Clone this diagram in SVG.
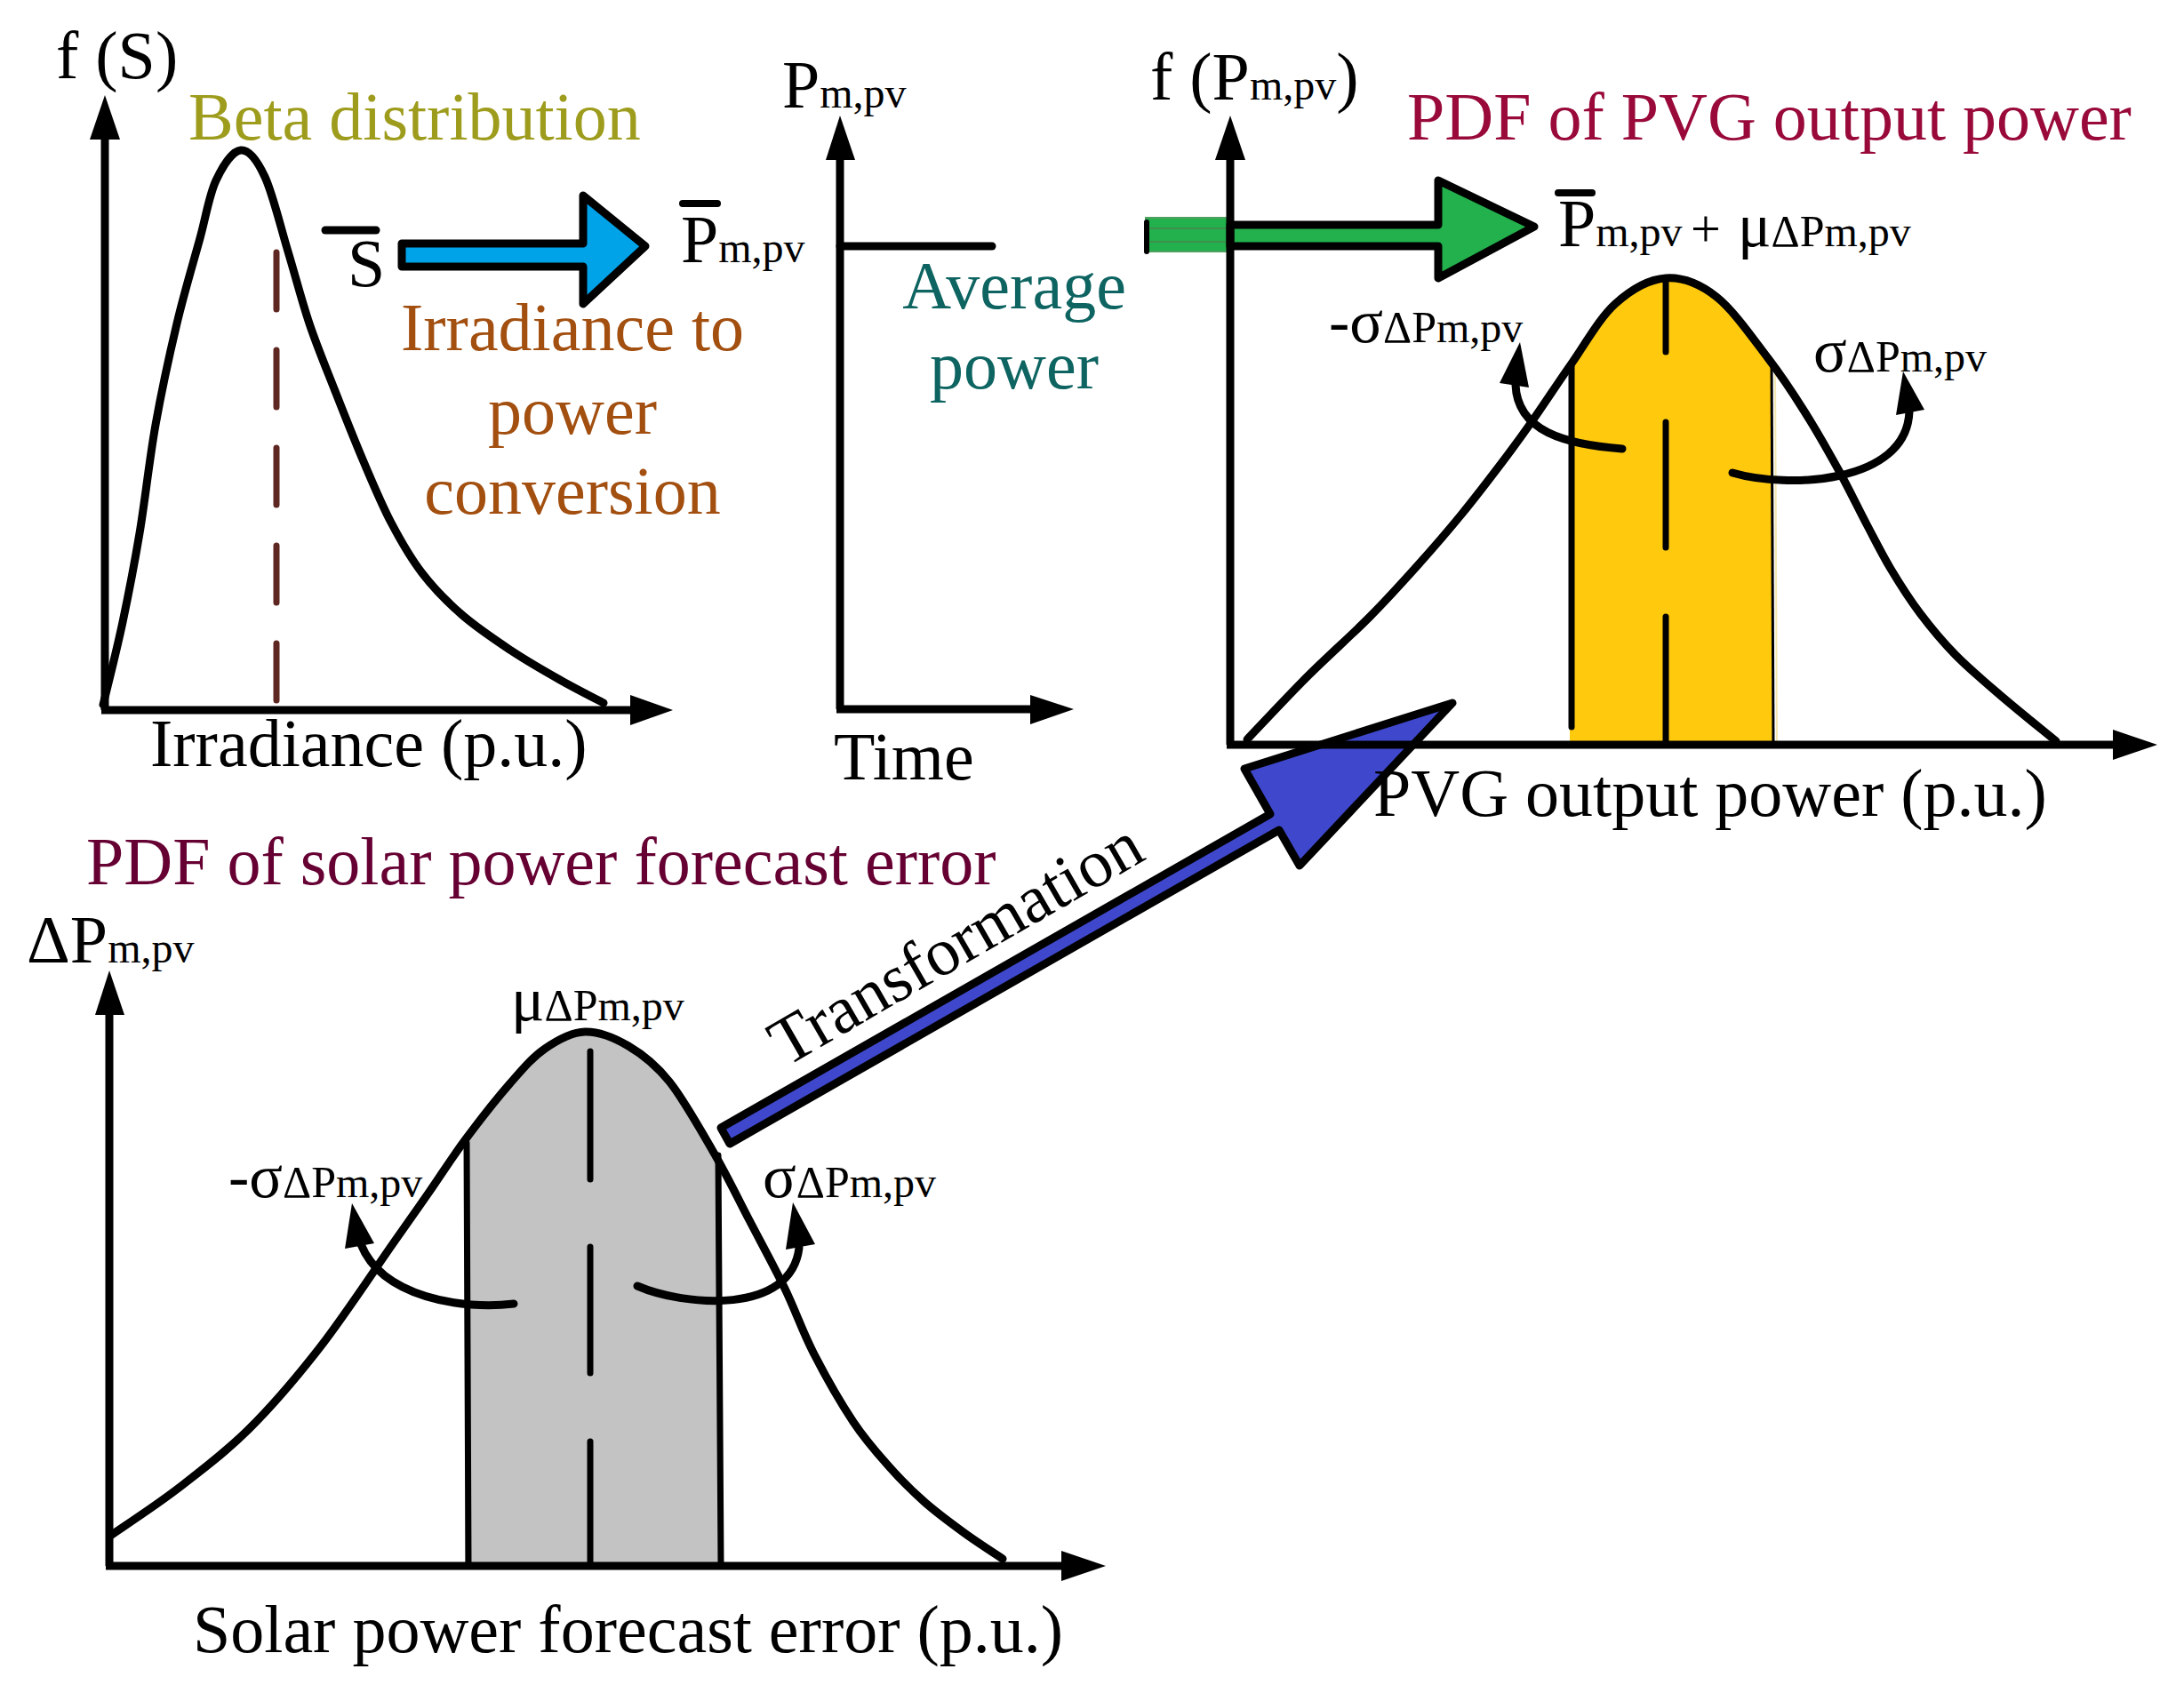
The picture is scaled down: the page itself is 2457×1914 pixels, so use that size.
<svg xmlns="http://www.w3.org/2000/svg" width="2457" height="1914" viewBox="0 0 2457 1914">
<style>
.t{font-family:"Liberation Serif","Times New Roman",serif;font-size:76px;fill:#000}
.s{font-size:48px}
.g{font-size:70px}
.d{font-size:50px}
.p{font-size:60px}
.olive{fill:#9e9c1c}
.brown{fill:#a24f10}
.teal{fill:#0d6461}
.crimson{fill:#990a3a}
.maroon{fill:#660033}
.ax{stroke:#000;stroke-width:9;fill:none}
.cv{stroke:#000;stroke-width:9;fill:none;stroke-linejoin:round;stroke-linecap:round}
.ln{stroke:#000;stroke-width:7;fill:none;stroke-linecap:round}
.ah{fill:#000}
.big{stroke:#000;stroke-width:9;stroke-linejoin:round}
</style>
<rect width="2457" height="1914" fill="#fff"/>

<g id="panel-beta">
  <line class="ax" x1="118" y1="155" x2="118" y2="799"/>
  <polygon class="ah" points="118,107 101,157 135,157"/>
  <line class="ax" x1="114" y1="799" x2="712" y2="799"/>
  <polygon class="ah" points="757,799 709,782 709,816"/>
  <line x1="311" y1="284" x2="311" y2="788" stroke="#5e2722" stroke-width="7" stroke-dasharray="64 46" stroke-linecap="round"/>
  <path class="cv" d="M116 793 C119.7 777.5,131.2 732.2,138 700 C144.8 667.8,150.8 637,157 600 C163.2 563,168 517.3,175 478 C182 438.7,190.7 399,199 364 C207.3 329,217.7 294.8,225 268 C232.3 241.2,235.3 219.5,243 203 C250.7 186.5,261.8 169.7,271 169 C280.2 168.3,289.2 180,298 199 C306.8 218,315.7 255.5,324 283 C332.3 310.5,339.2 337.8,348 364 C356.8 390.2,367 414.5,377 440 C387 465.5,397.5 492.3,408 517 C418.5 541.7,428.8 566.7,440 588 C451.2 609.3,461.7 627.7,475 645 C488.3 662.3,503.3 677.5,520 692 C536.7 706.5,556.7 719.8,575 732 C593.3 744.2,612.7 755.2,630 765 C647.3 774.8,670.8 786.7,679 791"/>
  <text class="t" x="63" y="88">f (S)</text>
  <text class="t olive" x="212" y="157">Beta distribution</text>
  <text class="t" x="391" y="322">S</text>
  <line x1="366" y1="259" x2="423" y2="259" stroke="#000" stroke-width="9" stroke-linecap="round"/>
  <text class="t" x="169" y="862">Irradiance (p.u.)</text>
</g>

<g id="label-conversion">
  <text class="t brown" x="644" y="394" text-anchor="middle">Irradiance to</text>
  <text class="t brown" x="644" y="488" text-anchor="middle">power</text>
  <text class="t brown" x="644" y="578" text-anchor="middle">conversion</text>
</g>

<g id="label-pbar">
  <text class="t" x="766" y="295">P<tspan class="s">m,pv</tspan></text>
  <line x1="768" y1="229" x2="807" y2="229" stroke="#000" stroke-width="8" stroke-linecap="round"/>
</g>

<g id="panel-time">
  <line class="ax" x1="945" y1="178" x2="945" y2="798"/>
  <polygon class="ah" points="945,130 929,180 962,180"/>
  <line class="ax" x1="941" y1="798" x2="1162" y2="798"/>
  <polygon class="ah" points="1208,798 1159,782 1159,815"/>
  <line x1="945" y1="277" x2="1116" y2="277" stroke="#000" stroke-width="9" stroke-linecap="round"/>
  <text class="t" x="880" y="121">P<tspan class="s">m,pv</tspan></text>
  <text class="t" x="938" y="877">Time</text>
  <text class="t teal" x="1141" y="347" text-anchor="middle">Average</text>
  <text class="t teal" x="1141" y="437" text-anchor="middle">power</text>
</g>

<g id="connectors">
  <polygon class="big" fill="#00a2e8" points="452,274 656,274 656,220 726,277 656,342 656,300 452,300"/>
  <rect x="1289" y="245" width="92" height="38" fill="#22b14c" stroke="#4f9f5f" stroke-width="2"/>
  <line x1="1290" y1="257" x2="1381" y2="257" stroke="#3f8f4f" stroke-width="2"/>
  <line x1="1290" y1="272" x2="1381" y2="272" stroke="#3f8f4f" stroke-width="2"/>
  <line x1="1290" y1="250" x2="1290" y2="283" stroke="#000" stroke-width="6" stroke-linecap="round"/>
  <polygon class="big" fill="#22b14c" points="1384,253 1618,253 1618,203 1726,255 1618,313 1618,277 1384,277"/>
  <polygon class="big" fill="#3f48cc" points="811,1269 1429,916 1400,865 1634,791 1462,974 1439,934 821,1287"/>
  <text class="t" transform="translate(884,1201) rotate(-30)">Transformation</text>
</g>

<g id="panel-pvg">
  <path fill="#ffc90e" d="M1766 838 L1766 409 C1783.3 387.3,1799.3 358,1817 342 C1834.7 326,1855 314.3,1874 313 C1893 311.7,1911.8 319,1931 334 C1950.2 349,1972.5 381.5,1989 403 L1992 405 L1994 838 Z"/>
  <line x1="1768" y1="410" x2="1768" y2="818" class="ln"/>
  <line x1="1993" y1="405" x2="1995" y2="838" stroke="#000" stroke-width="3"/>
  <line x1="1997" y1="410" x2="1999" y2="838" stroke="#f3e6b0" stroke-width="2"/>
  <line class="ln" x1="1874" y1="318" x2="1874" y2="396"/>
  <line class="ln" x1="1874" y1="475" x2="1874" y2="616"/>
  <line class="ln" x1="1874" y1="694" x2="1874" y2="838"/>
  <line class="ax" x1="1384" y1="178" x2="1384" y2="838"/>
  <polygon class="ah" points="1384,130 1367,180 1401,180"/>
  <line class="ax" x1="1380" y1="838" x2="2380" y2="838"/>
  <polygon class="ah" points="2427,838 2377,821 2377,855"/>
  <path class="cv" d="M1403 832 C1414.2 820.3,1447 785,1470 762 C1493 739,1520.2 715,1541 694 C1561.8 673,1577.8 655.2,1595 636 C1612.2 616.8,1628.2 598.3,1644 579 C1659.8 559.7,1676.5 537.8,1690 520 C1703.5 502.2,1712 490.5,1725 472 C1738 453.5,1752.7 430.7,1768 409 C1783.3 387.3,1799.3 358,1817 342 C1834.7 326,1855 314.3,1874 313 C1893 311.7,1911.8 319,1931 334 C1950.2 349,1972.5 381.5,1989 403 C2005.5 424.5,2016.7 441.8,2030 463 C2043.3 484.2,2057.3 508.8,2069 530 C2080.7 551.2,2090.3 571.7,2100 590 C2109.7 608.3,2117 623.3,2127 640 C2137 656.7,2147.8 673.8,2160 690 C2172.2 706.2,2185 721.7,2200 737 C2215 752.3,2231.2 765.8,2250 782 C2268.8 798.2,2302.5 825.3,2313 834"/>
  <path class="cv" d="M1825 505 C1760 500,1707 485,1705 433"/>
  <polygon class="ah" points="1710,385 1687,431 1720,436"/>
  <path class="cv" d="M1949 532 C2010 550,2145 545,2148 463"/>
  <polygon class="ah" points="2141,418 2133,467 2165,461"/>
  <text class="t" x="1294" y="112">f (P<tspan class="s">m,pv</tspan>)</text>
  <text class="t crimson" x="1583" y="157">PDF of PVG output power</text>
  <text class="t" x="1753" y="277">P<tspan class="s">m,pv</tspan><tspan class="p" x="1902">+</tspan><tspan class="g" x="1955">μ</tspan><tspan class="d">ΔP</tspan><tspan class="s">m,pv</tspan></text>
  <line x1="1753" y1="217" x2="1791" y2="217" stroke="#000" stroke-width="8" stroke-linecap="round"/>
  <text class="t g" x="1495" y="385">-σ<tspan class="d">ΔP</tspan><tspan class="s">m,pv</tspan></text>
  <text class="t g" x="2040" y="418">σ<tspan class="d">ΔP</tspan><tspan class="s">m,pv</tspan></text>
  <text class="t" x="1545" y="918">PVG output power (p.u.)</text>
</g>

<g id="panel-error">
  <path fill="#c3c3c3" d="M523 1762 L523 1283 C538 1262.8,558 1237.2,573 1220 C588 1202.8,598.8 1189.8,613 1180 C627.2 1170.2,642.3 1161.5,658 1161 C673.7 1160.5,691.2 1167.7,707 1177 C722.8 1186.3,737 1197,753 1217 C769 1237,788 1271,803 1297 L806 1302 L810 1762 Z"/>
  <line class="ln" x1="525" y1="1286" x2="527" y2="1760"/>
  <line class="ln" x1="808" y1="1300" x2="811" y2="1760"/>
  <line class="ln" x1="664" y1="1183" x2="664" y2="1327"/>
  <line class="ln" x1="664" y1="1403" x2="664" y2="1545"/>
  <line class="ln" x1="664" y1="1622" x2="664" y2="1762"/>
  <line class="ax" x1="123" y1="1138" x2="123" y2="1762"/>
  <polygon class="ah" points="123,1092 107,1142 140,1142"/>
  <line class="ax" x1="119" y1="1762" x2="1196" y2="1762"/>
  <polygon class="ah" points="1244,1762 1194,1745 1194,1779"/>
  <path class="cv" d="M124 1728 C136.7 1719.2,174 1695,200 1675 C226 1655,253.3 1634.5,280 1608 C306.7 1581.5,332.8 1551,360 1516 C387.2 1481,422.5 1427.2,443 1398 C463.5 1368.8,469.7 1360.2,483 1341 C496.3 1321.8,508 1303.2,523 1283 C538 1262.8,558 1237.2,573 1220 C588 1202.8,598.8 1189.8,613 1180 C627.2 1170.2,642.3 1161.5,658 1161 C673.7 1160.5,691.2 1167.7,707 1177 C722.8 1186.3,737 1197,753 1217 C769 1237,788 1271,803 1297 C818 1323,829.7 1347.5,843 1373 C856.3 1398.5,871 1425.2,883 1450 C895 1474.8,902.2 1497,915 1522 C927.8 1547,945.8 1578.7,960 1600 C974.2 1621.3,986.7 1635,1000 1650 C1013.3 1665,1025.8 1677.5,1040 1690 C1054.2 1702.5,1070.3 1714.3,1085 1725 C1099.7 1735.7,1120.8 1749.2,1128 1754"/>
  <path class="cv" d="M578 1467 C520 1474,430 1460,406 1400"/>
  <polygon class="ah" points="396,1354 388,1405 421,1399"/>
  <path class="cv" d="M717 1447 C770 1470,890 1480,899 1404"/>
  <polygon class="ah" points="892,1353 884,1406 917,1400"/>
  <text class="t maroon" x="97" y="995">PDF of solar power forecast error</text>
  <text class="t" x="30" y="1083">ΔP<tspan class="s">m,pv</tspan></text>
  <text class="t g" x="575" y="1148">μ<tspan class="d">ΔP</tspan><tspan class="s">m,pv</tspan></text>
  <text class="t g" x="257" y="1347">-σ<tspan class="d">ΔP</tspan><tspan class="s">m,pv</tspan></text>
  <text class="t g" x="858" y="1347">σ<tspan class="d">ΔP</tspan><tspan class="s">m,pv</tspan></text>
  <text class="t" x="217" y="1859">Solar power forecast error (p.u.)</text>
</g>
</svg>
